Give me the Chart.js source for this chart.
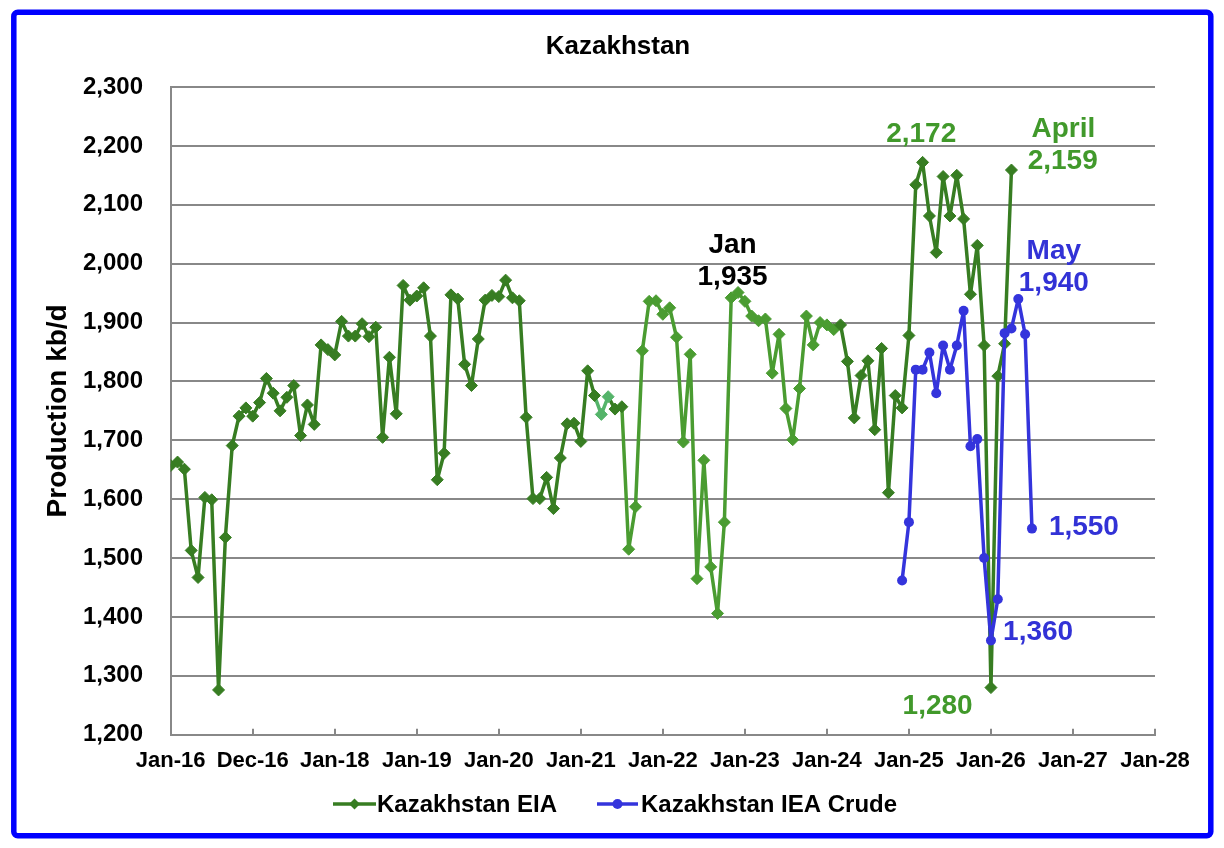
<!DOCTYPE html>
<html>
<head>
<meta charset="utf-8">
<title>Kazakhstan</title>
<script src="https://cdn.jsdelivr.net/npm/chart.js@4.4.1/dist/chart.umd.min.js"></script>
<style>
html,body{margin:0;padding:0;background:#fff;}
canvas{display:block;}
</style>
</head>
<body>
<canvas id="kzChart" width="1224" height="848"></canvas>
<script>
// x is counted in months from Jan-16 (= 0)
const xTickLabels=['Jan-16','Dec-16','Jan-18','Jan-19','Jan-20','Jan-21','Jan-22','Jan-23','Jan-24','Jan-25','Jan-26','Jan-27','Jan-28'];

// Kazakhstan EIA, Jan-16 .. Apr-26, kb/d
const eiaStart=0;
const eiaValues=[
1657,1663,1651,1513,1467,1603,1599,1276,1535,1691,1741,1755,
1741,1764,1805,1780,1750,1773,1793,1708,1760,1727,1862,1854,
1845,1902,1877,1877,1898,1876,1892,1705,1841,1745,1963,1938,
1945,1959,1877,1633,1678,1947,1940,1829,1793,1872,1938,1946,
1944,1972,1942,1937,1739,1601,1601,1637,1584,1670,1728,1729,
1698,1818,1776,1744,1774,1753,1757,1515,1587,1852,1936,1937,
1914,1925,1875,1697,1846,1465,1666,1485,1406,1561,1942,1951,
1936,1911,1903,1906,1814,1880,1754,1701,1788,1911,1862,1900,
1896,1888,1896,1834,1738,1810,1835,1718,1856,1611,1776,1755,
1878,2134,2172,2081,2019,2148,2081,2150,2076,1948,2031,1861,
1280,1809,1864,2159
];

// Kazakhstan IEA Crude, Dec-24 .. Jul-26, kb/d
const ieaStart=107;
const ieaValues=[
1462,1561,1820,1820,1849,1780,1861,1820,1861,1920,1690,1702,1500,
1360,1430,1882,1890,1940,1880,1550
];

const darkGreen='#377d22';
const lightGreen='#4a9c31';
const tealGreen='#55b46a';
const blue='#3434dc';
const noteGreen='#41992b';
const noteBlue='#3232d6';

// text notes, anchored in data units (x month, y baseline value)
const notes=[
{text:'Jan',x:82.2,y:2018,color:'#000'},
{text:'1,935',x:82.2,y:1964,color:'#000'},
{text:'2,172',x:109.8,y:2207,color:noteGreen},
{text:'April',x:130.6,y:2215,color:noteGreen},
{text:'2,159',x:130.5,y:2161,color:noteGreen},
{text:'May',x:129.2,y:2008,color:noteBlue},
{text:'1,940',x:129.2,y:1954,color:noteBlue},
{text:'1,550',x:133.6,y:1539,color:noteBlue},
{text:'1,360',x:126.9,y:1360,color:noteBlue},
{text:'1,280',x:112.2,y:1236,color:noteGreen}
];

function eiaColor(i){
if(i>=63&&i<=64) return tealGreen;
if(i>=67&&i<=97) return lightGreen;
return darkGreen;
}

const eiaPoints=eiaValues.map((v,i)=>({x:eiaStart+i,y:v}));
const ieaPoints=ieaValues.map((v,i)=>({x:ieaStart+i,y:v}));

Chart.defaults.font.family='"Liberation Sans", Arial, sans-serif';

const extras={
id:'extras',
afterDatasetsDraw(chart){
const c=chart.ctx;
const xs=chart.scales.x, ys=chart.scales.y;
c.save();
c.font='bold 28px "Liberation Sans", Arial, sans-serif';
c.textAlign='center';
c.textBaseline='alphabetic';
notes.forEach(n=>{
c.fillStyle=n.color;
c.fillText(n.text,xs.getPixelForValue(n.x),ys.getPixelForValue(n.y));
});
c.restore();
},
afterDraw(chart){
const c=chart.ctx;
c.save();
// title
c.fillStyle='#000';
c.font='bold 26px "Liberation Sans", Arial, sans-serif';
c.textAlign='center';
c.textBaseline='alphabetic';
c.fillText('Kazakhstan',618,54);

// legend
c.lineWidth=3.5;
c.strokeStyle=darkGreen;
c.beginPath();c.moveTo(333,804);c.lineTo(376,804);c.stroke();
c.fillStyle=darkGreen;
c.beginPath();
c.moveTo(354.5,798.5);c.lineTo(360,804);c.lineTo(354.5,809.5);c.lineTo(349,804);
c.closePath();c.fill();
c.strokeStyle=blue;
c.beginPath();c.moveTo(597,804);c.lineTo(638,804);c.stroke();
c.fillStyle=blue;
c.beginPath();c.arc(617.5,804,5,0,Math.PI*2);c.fill();

c.fillStyle='#000';
c.font='bold 24px "Liberation Sans", Arial, sans-serif';
c.textAlign='left';
c.fillText('Kazakhstan EIA',377,812);
c.fillText('Kazakhstan IEA Crude',641,812);

// frame
c.strokeStyle='#0000ff';
c.lineWidth=5.5;
c.beginPath();
c.roundRect(13.8,12.2,1197,823.6,4);
c.stroke();
c.restore();
}
};

new Chart(
document.getElementById('kzChart'),
{
type:'line',
data:{
datasets:[
{
label:'Kazakhstan EIA',
data:eiaPoints,
order:2,
borderWidth:3.5,
borderJoinStyle:'round',
borderCapStyle:'round',
borderColor:darkGreen,
segment:{borderColor:ctx=>eiaColor(ctx.p1DataIndex)},
pointStyle:'rectRot',
pointRadius:6,
pointBorderWidth:1,
pointBackgroundColor:ctx=>eiaColor(ctx.dataIndex),
pointBorderColor:ctx=>eiaColor(ctx.dataIndex),
tension:0
},
{
label:'Kazakhstan IEA Crude',
data:ieaPoints,
order:1,
borderWidth:3.5,
borderJoinStyle:'round',
borderCapStyle:'round',
borderColor:blue,
pointStyle:'circle',
pointRadius:5,
pointBorderWidth:0,
pointBackgroundColor:blue,
tension:0
}
]
},
options:{
responsive:false,
animation:false,
devicePixelRatio:1,
layout:{padding:{left:12,right:69,top:87,bottom:73.3}},
plugins:{
legend:{display:false},
title:{display:false},
tooltip:{enabled:false}
},
scales:{
x:{
type:'linear',
min:0,
max:144,
ticks:{
stepSize:12,
autoSkip:false,
maxRotation:0,
padding:19,
color:'#000',
font:{size:22,weight:'bold'},
callback:v=>xTickLabels[Math.round(v/12)]
},
grid:{drawOnChartArea:false,drawTicks:true,tickLength:-6,color:'#888',lineWidth:2},
border:{color:'#888',width:2},
afterFit:s=>{s.height=40;}
},
y:{
min:1200,
max:2300,
ticks:{
stepSize:100,
padding:27.7,
color:'#000',
font:{size:24,weight:'bold'},
callback:v=>v.toLocaleString('en-US')
},
grid:{color:'#888',lineWidth:2,drawTicks:false},
border:{color:'#888',width:2},
title:{
display:true,
text:'Production kb/d',
color:'#000',
font:{size:28,weight:'bold'},
padding:{top:29,bottom:0}
},
afterFit:s=>{s.width=158.7;}
}
}
},
plugins:[extras]
}
);
</script>
</body>
</html>
